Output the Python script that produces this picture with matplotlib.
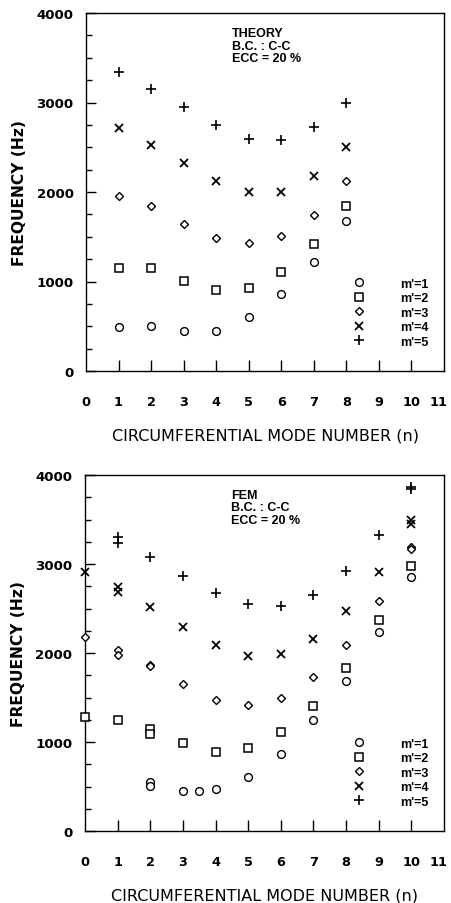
import matplotlib
matplotlib.use("Agg")
import matplotlib.pyplot as plt
from matplotlib.lines import Line2D
from matplotlib.ticker import MultipleLocator
from matplotlib.transforms import ScaledTranslation

# ---------------- data ----------------
# THEORY (top panel)
th_n = [1, 2, 3, 4, 5, 6, 7, 8]
th_m1 = [488, 506, 443, 443, 600, 860, 1221, 1679]
th_m2 = [1147, 1147, 1002, 905, 924, 1102, 1419, 1840]
th_m3 = [1951, 1840, 1642, 1486, 1426, 1504, 1743, 2126]
th_m4 = [2711, 2525, 2320, 2126, 2003, 2003, 2182, 2499]
th_m5 = [3344, 3151, 2946, 2748, 2592, 2581, 2722, 2994]

# FEM (bottom panel)
fem_n1 = [2, 2, 3, 3.5, 4, 5, 6, 7, 8, 9, 10]
fem_m1 = [555, 505, 446, 446, 472, 603, 865, 1247, 1689, 2232, 2850]
fem_n2 = [0, 1, 2, 2, 3, 4, 5, 6, 7, 8, 9, 10]
fem_m2 = [1277, 1251, 1150, 1085, 989, 884, 929, 1109, 1408, 1828, 2371, 2975]
fem_n3 = [0, 1, 1, 2, 2, 3, 4, 5, 6, 7, 8, 9, 10, 10]
fem_m3 = [2183, 2037, 1978, 1862, 1850, 1652, 1476, 1416, 1494, 1734, 2093, 2588, 3188, 3172]
fem_n4 = [0, 1, 1, 2, 3, 4, 5, 6, 7, 8, 9, 10, 10]
fem_m4 = [2907, 2738, 2682, 2513, 2296, 2093, 1970, 1989, 2157, 2468, 2907, 3494, 3449]
fem_n5 = [1, 1, 2, 3, 4, 5, 6, 7, 8, 9, 10, 10]
fem_m5 = [3307, 3232, 3075, 2869, 2670, 2551, 2532, 2652, 2925, 3326, 3870, 3845]

legend_labels = ["m'=1", "m'=2", "m'=3", "m'=4", "m'=5"]
x_ticks = list(range(0, 12))
y_ticks = [0, 1000, 2000, 3000, 4000]
theory_note = "THEORY\nB.C. : C-C\nECC = 20 %"
fem_note = "FEM\nB.C. : C-C\nECC = 20 %"
xlabel = "CIRCUMFERENTIAL MODE NUMBER (n)"
ylabel = "FREQUENCY (Hz)"

# ---------------- style ----------------
FONT = "DejaVu Sans"
markers = [
    dict(marker="o", ms=5.6, mfc="white", mec="black", mew=1.0),
    dict(marker="s", ms=5.2, mfc="white", mec="black", mew=1.1),
    dict(marker="D", ms=3.8, mfc="white", mec="black", mew=1.0),
    dict(marker="x", ms=6.2, mec="black", mew=1.3),
    dict(marker="+", ms=7.2, mec="black", mew=1.2),
]

fig = plt.figure(figsize=(4.51, 9.04), dpi=100)
ax1 = fig.add_axes([86 / 451, 1 - 372 / 904, 358 / 451, 358 / 904])
ax2 = fig.add_axes([85 / 451, 1 - 832 / 904, 359 / 451, 356 / 904])


def style_axes(ax, note):
    ax.set_xlim(0, 11)
    ax.set_ylim(0, 4000)
    for sp in ax.spines.values():
        sp.set_linewidth(1.0)
    ax.set_xticks(x_ticks)
    ax.set_yticks(y_ticks)
    ax.yaxis.set_minor_locator(MultipleLocator(250))
    ax.tick_params(axis="x", which="major", direction="in", length=8, width=1.0,
                   pad=17, labelsize=9.3)
    ax.tick_params(axis="y", which="major", direction="in", length=7.5, width=1.0,
                   pad=9, labelsize=9.6)
    ax.tick_params(axis="y", which="minor", direction="in", length=4, width=1.0)
    for lab in ax.get_xticklabels() + ax.get_yticklabels():
        lab.set_fontfamily(FONT)
        lab.set_fontweight("bold")
    xt = ax.xaxis.get_major_ticks()
    xt[0].tick1line.set_visible(False)
    xt[-1].tick1line.set_visible(False)
    # keep the last label ("11") inside the figure edge
    lab11 = xt[-1].label1
    lab11.set_transform(lab11.get_transform() +
                        ScaledTranslation(-5 / 100, 0, fig.dpi_scale_trans))
    ax.set_xlabel(xlabel, fontfamily=FONT, fontsize=11.5, labelpad=14)
    ax.set_ylabel(ylabel, fontfamily=FONT, fontsize=11.2, fontweight="bold", labelpad=7)
    ax.text(0.408, 0.96, note, transform=ax.transAxes, ha="left", va="top",
            fontfamily="Liberation Sans", fontweight="bold", fontsize=9,
            linespacing=1.02)
    handles = [Line2D([], [], linestyle="none", color="black", **m) for m in markers]
    ax.legend(handles, legend_labels, loc="lower left",
              bbox_to_anchor=(0.745, 0.065), frameon=False,
              handlelength=1.0, handletextpad=2.8, labelspacing=0.2,
              borderpad=0, borderaxespad=0,
              prop=dict(family="Liberation Sans", weight="bold", size=9))


plot_opts = dict(linestyle="none", color="black", clip_on=False, zorder=3)

for ys, m in zip([th_m1, th_m2, th_m3, th_m4, th_m5], markers):
    ax1.plot(th_n, ys, **plot_opts, **m)
style_axes(ax1, theory_note)

fem_sets = [(fem_n1, fem_m1), (fem_n2, fem_m2), (fem_n3, fem_m3),
            (fem_n4, fem_m4), (fem_n5, fem_m5)]
for (xs, ys), m in zip(fem_sets, markers):
    ax2.plot(xs, ys, **plot_opts, **m)
style_axes(ax2, fem_note)

fig.savefig("out.png", dpi=100)
